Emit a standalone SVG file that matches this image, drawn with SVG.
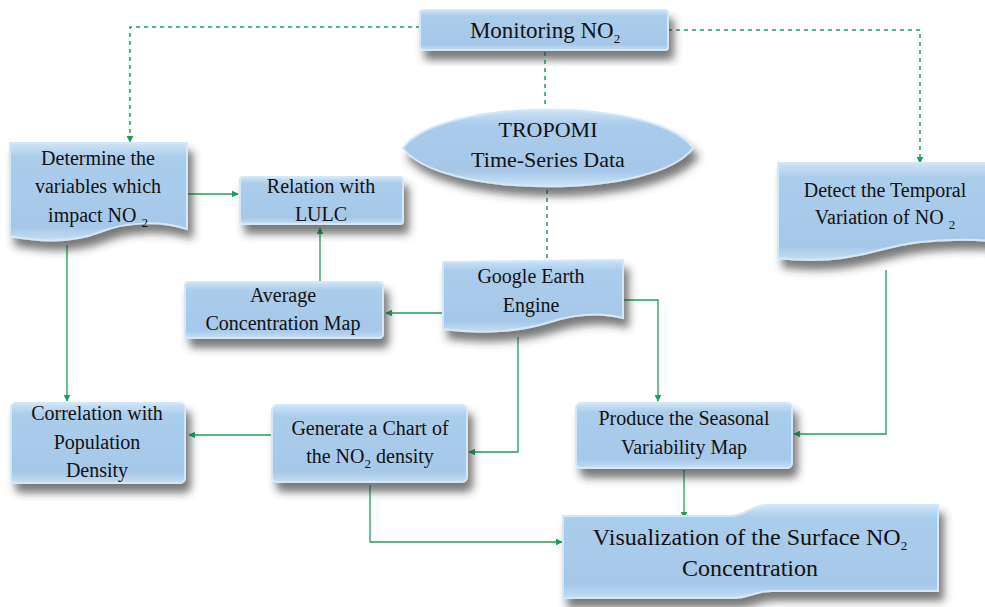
<svg xmlns="http://www.w3.org/2000/svg" width="985" height="607" viewBox="0 0 985 607">
<defs>
<linearGradient id="fillG" x1="0" y1="0" x2="0" y2="1">
<stop offset="0" stop-color="#cfe4f6"/>
<stop offset="0.14" stop-color="#abcdec"/>
<stop offset="0.86" stop-color="#a5c8ea"/>
<stop offset="1" stop-color="#c4ddf3"/>
</linearGradient>
<linearGradient id="lensG" x1="0" y1="0" x2="0" y2="1">
<stop offset="0" stop-color="#cfe4f6"/>
<stop offset="0.2" stop-color="#a9cbeb"/>
<stop offset="0.8" stop-color="#a5c8ea"/>
<stop offset="1" stop-color="#cfe4f6"/>
</linearGradient>
<filter id="shadow" x="-10%" y="-20%" width="125%" height="160%">
<feGaussianBlur in="SourceAlpha" stdDeviation="4.5"/>
<feOffset dx="5" dy="9" result="b"/>
<feFlood flood-color="#333" flood-opacity="0.65"/>
<feComposite in2="b" operator="in"/>
<feMerge><feMergeNode/><feMergeNode in="SourceGraphic"/></feMerge>
</filter>
<marker id="arr" viewBox="0 0 10 10" refX="9" refY="5" markerWidth="7" markerHeight="7" markerUnits="userSpaceOnUse" orient="auto">
<path d="M0,0 L10,5 L0,10 Z" fill="#1e9e57"/>
</marker>
</defs>
<style>
.shape{fill:url(#fillG);stroke:#d3e7f7;stroke-width:2;filter:url(#shadow)}
.lens{fill:url(#lensG);stroke:#d3e7f7;stroke-width:2;filter:url(#shadow)}
text{font-family:'Liberation Serif','DejaVu Serif',serif;font-size:20px;fill:#111;text-anchor:middle}
.big{font-size:23px}
.vis{font-size:24px}
.sub{font-size:13px}
.c{fill:none;stroke:#1e9e57;stroke-width:1.3;marker-end:url(#arr)}
.d{fill:none;stroke:#1e9e57;stroke-width:1.5;stroke-dasharray:4 4}
.dm{marker-end:url(#arr)}
</style>
<rect width="985" height="607" fill="#fff"/>
<g id="connectors">
<path class="d dm" d="M420,27 H130 V142"/>
<path class="d dm" d="M668,30 H920 V163"/>
<path class="d" d="M545,52 V108"/>
<path class="d" d="M547,190 V262"/>
<path class="c" d="M188,194 H238"/>
<path class="c" d="M320,282 V228"/>
<path class="c" d="M443,313 H386"/>
<path class="c" d="M624,300 H658 V401"/>
<path class="c" d="M518,337 V452 H469"/>
<path class="c" d="M67,245 V401"/>
<path class="c" d="M272,435 H189"/>
<path class="c" d="M370,485 V542 H562"/>
<path class="c" d="M886,270 V434 H794"/>
<path class="c" d="M684,470 V518"/>
</g>
<g id="monitoring">
<rect class="shape" x="420" y="10" width="248" height="40" rx="3"/>
<text class="big" x="545" y="38" font-family="Liberation Serif, serif">Monitoring NO<tspan class="sub" dy="5" font-size="15">2</tspan></text>
</g>
<g id="tropomi">
<path class="lens" d="M403,148 C440,97 656,97 693,148 C656,199 440,199 403,148 Z"/>
<text x="548" y="137" style="font-size:22px">TROPOMI</text>
<text x="548" y="167" style="font-size:22px">Time-Series Data</text>
</g>
<g id="determine">
<path class="shape" d="M10,143 H187 V229 C160,220 125,222 100,232 C72,243 40,242 10,236 Z"/>
<text x="98" y="165">Determine the</text>
<text x="98" y="193">variables which</text>
<text x="98" y="222">impact NO <tspan class="sub" dy="5">2</tspan></text>
</g>
<g id="relation">
<rect class="shape" x="240" y="177" width="163" height="47" rx="3"/>
<text x="321" y="193">Relation with</text>
<text x="321" y="221">LULC</text>
</g>
<g id="detect">
<path class="shape" d="M778,163 H992 V241 C950,238 915,240 880,250 C845,260 810,262 778,258 Z"/>
<text x="885" y="197">Detect the Temporal</text>
<text x="885" y="224">Variation of NO <tspan class="sub" dy="5">2</tspan></text>
</g>
<g id="average">
<rect class="shape" x="185" y="282" width="198" height="56" rx="4"/>
<text x="283" y="302">Average</text>
<text x="283" y="330">Concentration Map</text>
</g>
<g id="gee">
<path class="shape" d="M443,262 L623,260 V318 C600,312 575,314 550,322 C520,332 480,334 443,329 Z"/>
<text x="531" y="283">Google Earth</text>
<text x="531" y="312">Engine</text>
</g>
<g id="correlation">
<rect class="shape" x="11" y="403" width="174" height="80" rx="5"/>
<text x="97" y="420">Correlation with</text>
<text x="97" y="449">Population</text>
<text x="97" y="477">Density</text>
</g>
<g id="generate">
<rect class="shape" x="272" y="405" width="195" height="77" rx="5"/>
<text x="370" y="435">Generate a Chart of</text>
<text x="370" y="463">the NO<tspan class="sub" dy="5">2</tspan><tspan dy="-5"> density</tspan></text>
</g>
<g id="produce">
<rect class="shape" x="576" y="403" width="216" height="65" rx="5"/>
<text x="684" y="425">Produce the Seasonal</text>
<text x="684" y="454">Variability Map</text>
</g>
<g id="visualization">
<path class="shape" d="M563,516 H730 C746,516 750,505 768,505 H938 V591 H772 C754,591 750,598 732,598 H563 Z"/>
<text class="vis" x="750" y="545">Visualization of the Surface NO<tspan class="sub" dy="5" font-size="15">2</tspan></text>
<text class="vis" x="750" y="576">Concentration</text>
</g>
</svg>
